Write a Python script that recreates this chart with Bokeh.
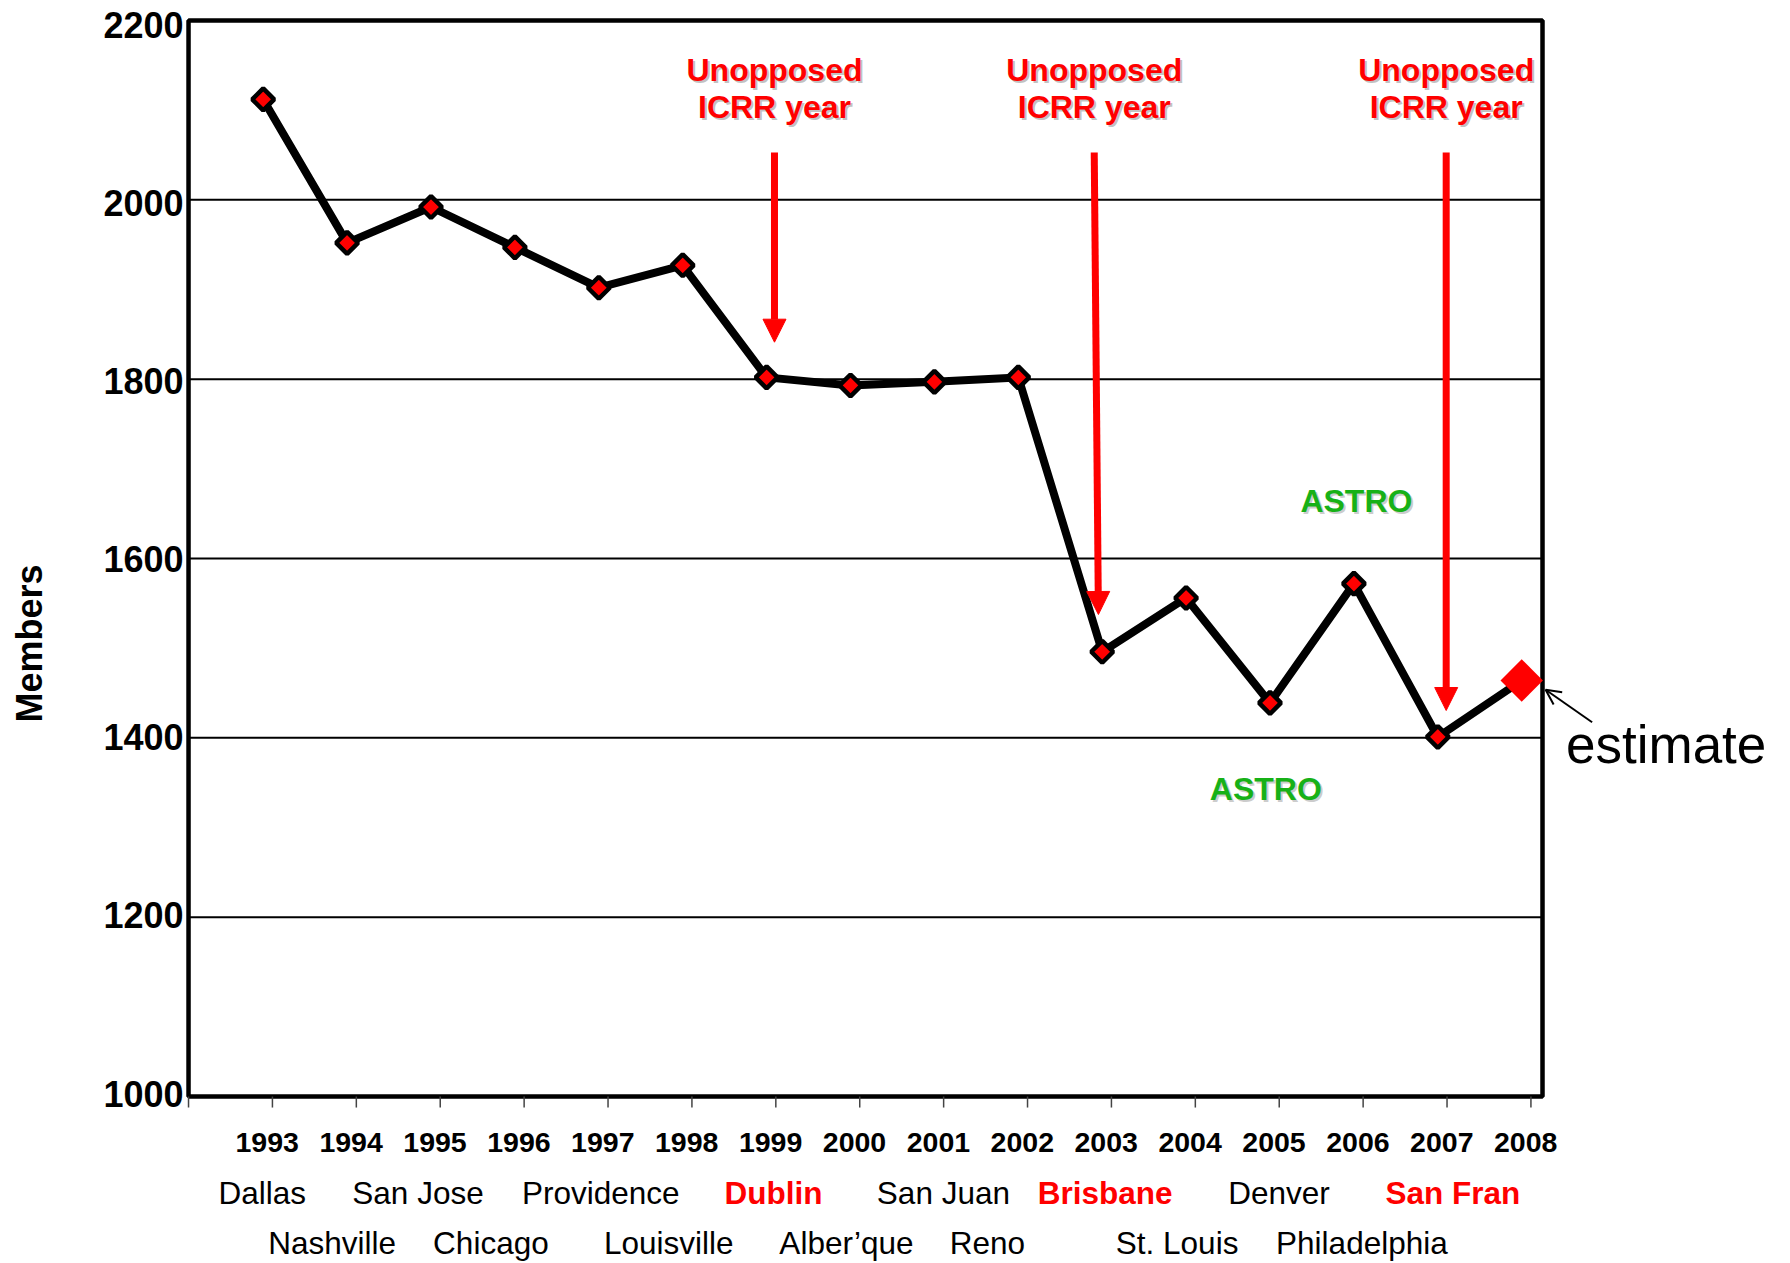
import numpy as np
from bokeh.plotting import figure
from bokeh.models import ColumnDataSource, Arrow, NormalHead, OpenHead, Range1d
from bokeh.core.properties import value
from bokeh.embed import file_html
from bokeh.resources import INLINE

# ---------------- data ----------------
YEARS = [1993, 1994, 1995, 1996, 1997, 1998, 1999, 2000,
         2001, 2002, 2003, 2004, 2005, 2006, 2007]
MEMBERS = [2112, 1952, 1992, 1947, 1902, 1927, 1802, 1793,
           1797, 1802, 1496, 1556, 1439, 1572, 1401]
EST_YEAR = [2008]
EST_MEMBERS = [1464]
YEAR_LABELS = ["1993", "1994", "1995", "1996", "1997", "1998", "1999", "2000",
               "2001", "2002", "2003", "2004", "2005", "2006", "2007", "2008"]
Y_TICKS = [1000, 1200, 1400, 1600, 1800, 2000, 2200]
Y_TICK_LABELS = ["1000", "1200", "1400", "1600", "1800", "2000", "2200"]

ROW1_CITIES = ["Dallas", "San Jose", "Providence", "Dublin",
               "San Juan", "Brisbane", "Denver", "San Fran"]
ROW1_YEARS = [1993, 1995, 1997, 1999, 2001, 2003, 2005, 2007]
ROW2_CITIES = ["Nashville", "Chicago", "Louisville", "Alber\u2019que",
               "Reno", "St. Louis", "Philadelphia"]
ROW2_YEARS = [1994, 1996, 1998, 2000, 2002, 2004, 2006]
ICRR_CITIES = ["Dublin", "Brisbane", "San Fran"]
ICRR_YEARS = [1999, 2003, 2007]
ASTRO_YEARS = [2006, 2005]

# ---------------- page geometry (pixels) ----------------
W, H = 1790, 1263
PX_PER_YEAR = 83.9
PX_1993 = 262.7          # horizontal pixel of the first year
PX_PER_MEMBER = 0.8967
PX_2200 = 20.0           # vertical pixel of the top gridline


def xd(px):
    return 1993 + (px - PX_1993) / PX_PER_YEAR


def yd(py):
    return 2200 - (py - PX_2200) / PX_PER_MEMBER


def dpx(py):
    return py / PX_PER_MEMBER


RED = "#FF0000"
GREEN = "#17B117"
FONT = value("Liberation Sans")
MID = "middle"

X0 = YEARS[0] - 0.89                 # left edge of chart box (category boundary)
X1 = EST_YEAR[0] + 0.248             # right edge of chart box
ROW1_DX = [-1, -13, 2, 7, 9, 3, 9, 15]
ROW2_DX = [-15, -24, -14, -4, -31, -9, 8]
ICRR_DX = [0.094, -0.095, 0.10]
ICRR_TIP_DX = [0.094, -0.045, 0.10]
ICRR_TIPS_PX = [341.7, 614, 710]

p = figure(width=W, height=H, title=None,
           x_range=Range1d(xd(0), xd(W)), y_range=Range1d(yd(H), yd(0)),
           output_backend="svg", toolbar_location=None,
           x_axis_type=None, y_axis_type=None,
           min_border=0, min_border_left=0, min_border_right=0,
           min_border_top=0, min_border_bottom=0)
p.background_fill_color = "white"
p.border_fill_color = "white"
p.outline_line_color = None
p.grid.visible = False

# gridlines
inner = Y_TICKS[1:-1]
p.segment(x0=[X0] * len(inner), x1=[X1] * len(inner), y0=inner, y1=inner,
          line_color="black", line_width=2)
# chart box
p.quad(left=[X0], right=[X1], bottom=[Y_TICKS[0]], top=[Y_TICKS[-1]],
       fill_color=None, line_color="black", line_width=4.5)
# x tick marks at category boundaries
all_years = YEARS + EST_YEAR
xticks = [X0] + [y + 0.11 for y in all_years]
p.segment(x0=xticks, x1=xticks, y0=[Y_TICKS[0]] * len(xticks),
          y1=[Y_TICKS[0] - dpx(11)] * len(xticks),
          line_color="#444444", line_width=1.5)

# y tick labels (slightly compressed spacing, as in the original)
span = Y_TICKS[-1] - Y_TICKS[0]
p.text(x=[X0] * len(Y_TICKS),
       y=[t - dpx(-3 + 7.5 * (t - Y_TICKS[0]) / span) for t in Y_TICKS],
       text=Y_TICK_LABELS,
       x_offset=-5, text_align="right", text_baseline=MID,
       text_font=FONT, text_font_size="36px", text_font_style="bold", text_color="black")

# series
p.line(all_years, MEMBERS + EST_MEMBERS, line_width=8, line_color="black", line_join="round")
p.scatter(YEARS, MEMBERS, marker="square", size=15.5, angle=np.pi / 4,
          fill_color=RED, line_color="black", line_width=4.5)
p.scatter(EST_YEAR, EST_MEMBERS, marker="square", size=30, angle=np.pi / 4,
          fill_color=RED, line_color=None)

# year labels
p.text(x=all_years, y=[yd(1142.2)] * len(all_years), text=YEAR_LABELS, x_offset=4,
       text_align="center", text_baseline=MID,
       text_font=FONT, text_font_size="28.5px", text_font_style="bold", text_color="black")

# city labels
for cities, years, dx, py in [(ROW1_CITIES, ROW1_YEARS, ROW1_DX, 1192.5),
                              (ROW2_CITIES, ROW2_YEARS, ROW2_DX, 1242.0)]:
    src = ColumnDataSource(dict(
        x=years, y=[yd(py)] * len(years), t=cities, dx=dx,
        c=[RED if c in ICRR_CITIES else "black" for c in cities],
        s=["bold" if c in ICRR_CITIES else "normal" for c in cities]))
    p.text(x="x", y="y", text="t", x_offset="dx", source=src,
           text_align="center", text_baseline=MID,
           text_font=FONT, text_font_size="31.5px",
           text_font_style="s", text_color="c")

# ICRR arrows and labels
for yr, dx, tdx, tip in zip(ICRR_YEARS, ICRR_DX, ICRR_TIP_DX, ICRR_TIPS_PX):
    p.add_layout(Arrow(end=NormalHead(size=23, fill_color=RED, line_color=RED, line_width=1),
                       x_start=yr + dx, y_start=yd(152), x_end=yr + tdx, y_end=yd(tip),
                       line_color=RED, line_width=7))
    xs = [yr + dx, yr + dx]
    ys = [yd(69.2), yd(106.7)]
    txt = ["Unopposed", "ICRR year"]
    p.text(x=xs, y=ys, text=txt, x_offset=2, y_offset=2,
           text_align="center", text_baseline=MID,
           text_font=FONT, text_font_size="32px", text_font_style="bold",
           text_color="#999999", text_alpha=0.6)
    p.text(x=xs, y=ys, text=txt,
           text_align="center", text_baseline=MID,
           text_font=FONT, text_font_size="32px", text_font_style="bold",
           text_color=RED)

# ASTRO labels
ax = [ASTRO_YEARS[0] + 0.03, ASTRO_YEARS[1] - 0.05]
ay = [yd(500.6), yd(788.9)]
p.text(x=ax, y=ay, text=["ASTRO", "ASTRO"], x_offset=2, y_offset=2,
       text_align="center", text_baseline=MID,
       text_font=FONT, text_font_size="32px", text_font_style="bold",
       text_color="#999999", text_alpha=0.5)
p.text(x=ax, y=ay, text=["ASTRO", "ASTRO"],
       text_align="center", text_baseline=MID,
       text_font=FONT, text_font_size="32px", text_font_style="bold",
       text_color=GREEN)

# estimate note
p.text(x=[xd(1565.5)], y=[yd(744.3)], text=["estimate"], text_align="left",
       text_baseline=MID, text_font=FONT, text_font_size="53px",
       text_color="black")
p.add_layout(Arrow(end=OpenHead(size=15, line_width=2, line_color="black"),
                   x_start=xd(1591.6), y_start=yd(721.7), x_end=xd(1545.1), y_end=yd(689.3),
                   line_color="black", line_width=2))

# y axis title
p.text(x=[xd(28.5)], y=[yd(643)], text=["Members"], angle=np.pi / 2,
       text_align="center", text_baseline=MID,
       text_font=FONT, text_font_size="36px", text_font_style="bold", text_color="black")

open("out.html", "w").write(file_html(p, INLINE))
